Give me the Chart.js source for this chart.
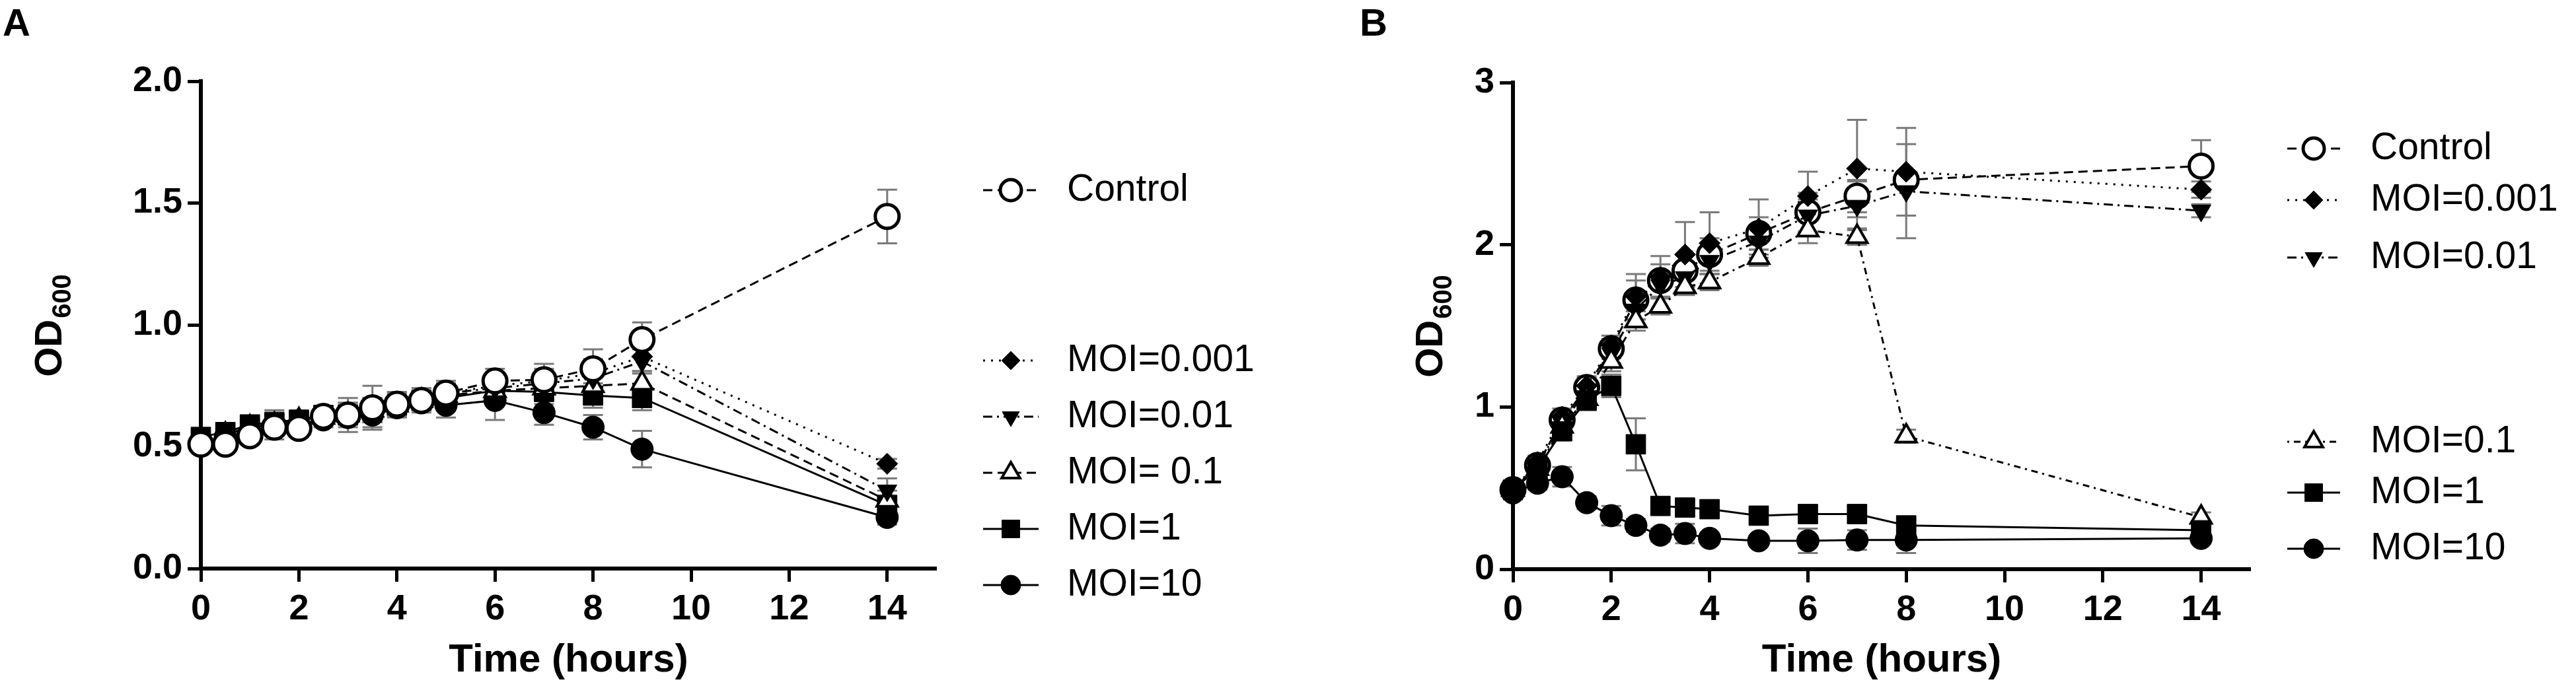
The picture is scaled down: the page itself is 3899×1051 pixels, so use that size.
<!DOCTYPE html>
<html lang="en">
<head>
<meta charset="UTF-8">
<title>OD600 growth curves with phage</title>
<script src="https://cdn.jsdelivr.net/npm/chart.js@4.4.0/dist/chart.umd.min.js"></script>
<style>
  html, body { margin: 0; padding: 0; background: #fff; }
  body { width: 3899px; height: 1051px; position: relative; overflow: hidden; font-family: "Liberation Sans", Arial, sans-serif; }
  .panel { position: absolute; top: 0; }
  .tag { position: absolute; top: 5px; font-weight: bold; font-size: 58px; line-height: 58px; color: #000; }
</style>
</head>
<body>
<div class="tag" style="left:4px">A</div>
<div class="tag" style="left:2058px">B</div>
<canvas id="chartA" class="panel" style="left:0" width="1950" height="1051"></canvas>
<canvas id="chartB" class="panel" style="left:1950px" width="1949" height="1051"></canvas>

<script>
// ---- data ----
const xTicks = [0, 2, 4, 6, 8, 10, 12, 14];
const yTicksA = [0, 0.5, 1, 1.5, 2];
const yTicksB = [0, 1, 2, 3];
const namesA = ['Control', 'MOI=0.001', 'MOI=0.01', 'MOI= 0.1', 'MOI=1', 'MOI=10'];
const namesB = ['Control', 'MOI=0.001', 'MOI=0.01', 'MOI=0.1', 'MOI=1', 'MOI=10'];

// panel A
const timeA = [0, 0.5, 1, 1.5, 2, 2.5, 3, 3.5, 4, 4.5, 5, 6, 7, 8, 9, 14];
const controlA    = [0.51, 0.51, 0.545, 0.58, 0.575, 0.625, 0.63, 0.66, 0.675, 0.69, 0.72, 0.77, 0.775, 0.82, 0.94, 1.445];
const controlAErr = [0.02, 0.02, 0.03, 0.03, 0.03, 0.03, 0.07, 0.09, 0.05, 0.04, 0.05, 0.05, 0.065, 0.08, 0.07, 0.11];
const moi0001A    = [0.53, 0.55, 0.58, 0.60, 0.61, 0.63, 0.64, 0.65, 0.68, 0.70, 0.72, 0.75, 0.77, 0.80, 0.87, 0.43];
const moi0001AErr = [0.02, 0.02, 0.03, 0.03, 0.03, 0.03, 0.04, 0.05, 0.04, 0.04, 0.04, 0.05, 0.05, 0.06, 0.06, 0.02];
const moi001A     = [0.53, 0.55, 0.58, 0.60, 0.61, 0.63, 0.64, 0.65, 0.68, 0.70, 0.72, 0.74, 0.76, 0.78, 0.85, 0.32];
const moi001AErr  = [0.02, 0.02, 0.03, 0.04, 0.03, 0.03, 0.04, 0.05, 0.04, 0.04, 0.04, 0.05, 0.05, 0.05, 0.05, 0.05];
const moi01A      = [0.53, 0.55, 0.58, 0.59, 0.61, 0.62, 0.63, 0.65, 0.67, 0.69, 0.71, 0.73, 0.74, 0.75, 0.76, 0.28];
const moi01AErr   = [0.02, 0.02, 0.03, 0.04, 0.03, 0.03, 0.04, 0.05, 0.04, 0.04, 0.04, 0.05, 0.05, 0.05, 0.05, 0.04];
const moi1A       = [0.54, 0.56, 0.59, 0.60, 0.61, 0.63, 0.63, 0.65, 0.67, 0.69, 0.70, 0.73, 0.725, 0.71, 0.70, 0.26];
const moi1AErr    = [0.02, 0.03, 0.04, 0.05, 0.04, 0.03, 0.04, 0.05, 0.04, 0.04, 0.04, 0.05, 0.05, 0.05, 0.05, 0.04];
const moi10A      = [0.52, 0.54, 0.56, 0.58, 0.59, 0.61, 0.62, 0.63, 0.66, 0.68, 0.67, 0.69, 0.64, 0.58, 0.49, 0.21];
const moi10AErr   = [0.02, 0.03, 0.04, 0.05, 0.04, 0.03, 0.04, 0.05, 0.04, 0.04, 0.05, 0.08, 0.05, 0.05, 0.075, 0.03];

// panel B
const timeB = [0, 0.5, 1, 1.5, 2, 2.5, 3, 3.5, 4, 5, 6, 7, 8, 14];
const controlB    = [0.49, 0.64, 0.92, 1.12, 1.36, 1.66, 1.78, 1.84, 1.94, 2.07, 2.20, 2.30, 2.40, 2.485];
const controlBErr = [0.03, 0.04, 0.05, 0.06, 0.06, 0.12, 0.10, 0.10, 0.10, 0.10, 0.12, 0.10, 0.05, 0.16];
const moi0001B    = [0.49, 0.66, 0.94, 1.13, 1.38, 1.68, 1.80, 1.94, 2.01, 2.10, 2.30, 2.47, 2.45, 2.34];
const moi0001BErr = [0.03, 0.04, 0.05, 0.06, 0.06, 0.14, 0.13, 0.20, 0.19, 0.18, 0.15, 0.30, 0.27, 0.05];
const moi001B     = [0.49, 0.64, 0.90, 1.10, 1.33, 1.60, 1.75, 1.80, 1.90, 2.02, 2.18, 2.24, 2.33, 2.21];
const moi001BErr  = [0.03, 0.04, 0.05, 0.06, 0.06, 0.10, 0.08, 0.08, 0.08, 0.08, 0.10, 0.15, 0.29, 0.04];
const moi01B      = [0.49, 0.62, 0.88, 1.05, 1.28, 1.53, 1.62, 1.74, 1.77, 1.92, 2.09, 2.05, 0.82, 0.32];
const moi01BErr   = [0.03, 0.04, 0.05, 0.06, 0.06, 0.06, 0.05, 0.05, 0.05, 0.05, 0.08, 0.05, 0.04, 0.03];
const moi1B       = [0.49, 0.62, 0.85, 1.04, 1.13, 0.77, 0.39, 0.38, 0.37, 0.33, 0.34, 0.34, 0.27, 0.24];
const moi1BErr    = [0.03, 0.04, 0.05, 0.06, 0.07, 0.16, 0.05, 0.05, 0.04, 0.04, 0.05, 0.05, 0.04, 0.03];
const moi10B      = [0.47, 0.53, 0.57, 0.41, 0.33, 0.27, 0.21, 0.22, 0.19, 0.175, 0.175, 0.18, 0.18, 0.19];
const moi10BErr   = [0.04, 0.04, 0.06, 0.04, 0.06, 0.04, 0.04, 0.06, 0.03, 0.03, 0.075, 0.06, 0.08, 0.03];

const FONT = '"Liberation Sans", Arial, sans-serif';
Chart.defaults.font.family = FONT;
Chart.defaults.color = '#000';

// marker + line look per series (Control, 0.001, 0.01, 0.1, 1, 10)
const looks = [
  { style: 'circle',   rot: 0,   fill: '#fff', r: 18, bw: 5 },
  { style: 'rectRot',  rot: 0,   fill: '#000', r: 16, bw: 1 },
  { style: 'triangle', rot: 180, fill: '#000', r: 17, bw: 1 },
  { style: 'triangle', rot: 0,   fill: '#fff', r: 18, bw: 4 },
  { style: 'rect',     rot: 0,   fill: '#000', r: 21, bw: 1 },
  { style: 'circle',   rot: 0,   fill: '#000', r: 17, bw: 1 }
];

function buildSets(names, time, values, errors, dashes, orders) {
  return names.map((name, i) => ({
    label: name,
    data: time.map((t, j) => ({ x: t, y: values[i][j] })),
    errors: errors[i],
    order: orders[i],
    borderColor: '#000',
    borderWidth: 3,
    borderDash: dashes[i],
    pointStyle: looks[i].style,
    pointRotation: looks[i].rot,
    pointRadius: looks[i].r,
    pointBackgroundColor: looks[i].fill,
    pointBorderColor: '#000',
    pointBorderWidth: looks[i].bw,
    tension: 0,
    fill: false,
    clip: false
  }));
}

// gray error bars behind the markers
const errorBars = {
  id: 'errorBars',
  beforeDatasetsDraw(chart) {
    const { ctx, scales: { x, y } } = chart;
    ctx.save();
    ctx.strokeStyle = '#7a7a7a';
    ctx.lineWidth = 3;
    chart.data.datasets.forEach(ds => {
      ds.data.forEach((p, i) => {
        const e = ds.errors[i];
        const px = x.getPixelForValue(p.x);
        const top = y.getPixelForValue(p.y + e);
        const bot = y.getPixelForValue(p.y - e);
        ctx.beginPath();
        ctx.moveTo(px, top); ctx.lineTo(px, bot);
        ctx.moveTo(px - 15, top); ctx.lineTo(px + 15, top);
        ctx.moveTo(px - 15, bot); ctx.lineTo(px + 15, bot);
        ctx.stroke();
      });
    });
    ctx.restore();
  }
};

// legend with its own row positions (gaps like the figure)
const sideLegend = {
  id: 'sideLegend',
  afterDraw(chart, args, opts) {
    const ctx = chart.ctx;
    chart.data.datasets.forEach((ds, i) => {
      const yy = opts.rows[i];
      ctx.save();
      ctx.strokeStyle = '#000';
      ctx.lineWidth = 3;
      ctx.setLineDash(ds.borderDash);
      ctx.beginPath();
      ctx.moveTo(opts.x0, yy); ctx.lineTo(opts.x1, yy);
      ctx.stroke();
      ctx.setLineDash([]);
      ctx.fillStyle = ds.pointBackgroundColor;
      ctx.strokeStyle = '#000';
      ctx.lineWidth = ds.pointBorderWidth;
      Chart.helpers.drawPoint(ctx, {
        pointStyle: ds.pointStyle, rotation: ds.pointRotation,
        radius: ds.pointRadius - 2, borderWidth: ds.pointBorderWidth
      }, opts.mx, yy);
      ctx.fillStyle = '#000';
      ctx.font = '57px ' + FONT;
      ctx.textAlign = 'left';
      ctx.textBaseline = 'middle';
      ctx.fillText(ds.label, opts.tx, yy);
      ctx.restore();
    });
  }
};

// rotated y title with subscript
const odTitle = {
  id: 'odTitle',
  afterDraw(chart, args, opts) {
    const ctx = chart.ctx;
    ctx.save();
    ctx.translate(opts.x, opts.y);
    ctx.rotate(-Math.PI / 2);
    ctx.fillStyle = '#000';
    ctx.textBaseline = 'middle';
    ctx.textAlign = 'left';
    ctx.font = 'bold 58px ' + FONT;
    const w1 = ctx.measureText('OD').width;
    ctx.font = 'bold 40px ' + FONT;
    const w2 = ctx.measureText('600').width;
    const s = -(w1 + w2) / 2;
    ctx.font = 'bold 58px ' + FONT;
    ctx.fillText('OD', s, 0);
    ctx.font = 'bold 40px ' + FONT;
    ctx.fillText('600', s + w1 + 2, 19);
    ctx.restore();
  }
};

function makeOptions(cfg) {
  const axisGrid = { drawOnChartArea: false, drawTicks: true, tickLength: 20, tickColor: '#000', tickWidth: 5, color: '#000' };
  const axisBorder = { display: true, color: '#000', width: 6 };
  return {
    responsive: false,
    animation: false,
    devicePixelRatio: 1,
    layout: { padding: { left: 0, top: cfg.top, right: cfg.right, bottom: 0 } },
    plugins: {
      legend: { display: false },
      tooltip: { enabled: false },
      sideLegend: cfg.legend,
      odTitle: cfg.title
    },
    scales: {
      x: {
        type: 'linear', min: 0, max: 15,
        afterFit: s => { s.height = cfg.xHeight; },
        afterBuildTicks: s => { s.ticks = xTicks.map(v => ({ value: v })); },
        ticks: { autoSkip: false, maxRotation: 0, padding: 10, color: '#000', font: { size: 54, weight: 'bold' } },
        grid: axisGrid,
        border: axisBorder,
        title: { display: true, text: 'Time (hours)', color: '#000', font: { size: 60, weight: 'bold' }, padding: { top: 0, bottom: 15 } }
      },
      y: {
        type: 'linear', min: 0, max: cfg.yMax,
        afterFit: s => { s.width = cfg.left; },
        afterBuildTicks: s => { s.ticks = cfg.yTicks.map(v => ({ value: v })); },
        ticks: { padding: 8, color: '#000', font: { size: 54, weight: 'bold' }, callback: cfg.fmt },
        grid: axisGrid,
        border: axisBorder
      }
    }
  };
}

new Chart(document.getElementById('chartA'), {
  type: 'line',
  data: {
    datasets: buildSets(namesA, timeA,
      [controlA, moi0001A, moi001A, moi01A, moi1A, moi10A],
      [controlAErr, moi0001AErr, moi001AErr, moi01AErr, moi1AErr, moi10AErr],
      [[14, 8], [3, 9], [14, 7, 3, 7], [14, 8], [], []],
      [0, 1, 2, 3, 4, 5])
  },
  options: makeOptions({
    top: 123, right: 533, left: 304, xHeight: 190, yMax: 2, yTicks: yTicksA,
    fmt: v => v.toFixed(1),
    legend: { rows: [288, 546, 631, 716, 801, 886], x0: 1488, x1: 1572, mx: 1530, tx: 1615 },
    title: { x: 77, y: 494 }
  }),
  plugins: [errorBars, sideLegend, odTitle]
});

new Chart(document.getElementById('chartB'), {
  type: 'line',
  data: {
    datasets: buildSets(namesB, timeB,
      [controlB, moi0001B, moi001B, moi01B, moi1B, moi10B],
      [controlBErr, moi0001BErr, moi001BErr, moi01BErr, moi1BErr, moi10BErr],
      [[14, 8], [3, 9], [14, 7, 3, 7], [3, 7, 10, 7], [], []],
      [5, 4, 3, 2, 1, 0])
  },
  options: makeOptions({
    top: 125, right: 493, left: 340, xHeight: 189, yMax: 3, yTicks: yTicksB,
    fmt: v => String(v),
    legend: { rows: [225, 303, 390, 669, 746, 831], x0: 1512, x1: 1592, mx: 1552, tx: 1638 },
    title: { x: 217, y: 495 }
  }),
  plugins: [errorBars, sideLegend, odTitle]
});
</script>
</body>
</html>
